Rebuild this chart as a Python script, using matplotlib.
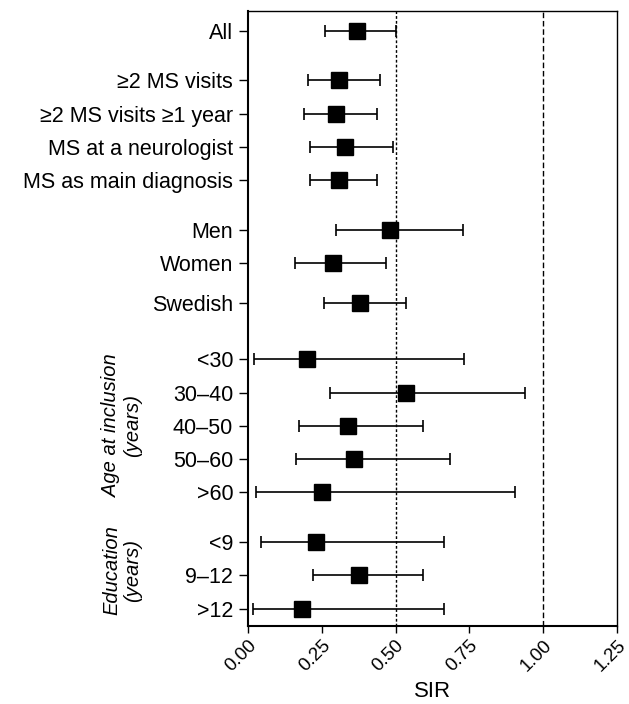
import matplotlib.pyplot as plt

plt.rcParams['font.family'] = ['Liberation Sans', 'DejaVu Sans']

# Données (SIR avec IC 95 %)
labels = ["All",
          "≥2 MS visits", "≥2 MS visits ≥1 year", "MS at a neurologist", "MS as main diagnosis",
          "Men", "Women",
          "Swedish",
          "<30", "30–40", "40–50", "50–60", ">60",
          "<9", "9–12", ">12"]
sir = [0.37,
       0.31, 0.30, 0.33, 0.31,
       0.48, 0.29,
       0.38,
       0.20, 0.535, 0.34, 0.36, 0.25,
       0.23, 0.375, 0.185]
ci_low = [0.26,
          0.205, 0.19, 0.21, 0.21,
          0.30, 0.16,
          0.257,
          0.022, 0.277, 0.174, 0.164, 0.026,
          0.044, 0.221, 0.019]
ci_high = [0.50,
           0.446, 0.438, 0.490, 0.438,
           0.729, 0.469,
           0.537,
           0.733, 0.938, 0.592, 0.684, 0.904,
           0.663, 0.593, 0.663]
group_sizes = [1, 4, 2, 1, 5, 3]

# Positions des lignes, avec un espace entre les groupes
gaps = [0.5, 0.5, 0.2, 0.7, 0.5, 0]
ypos = []
y = 0
for size, gap in zip(group_sizes, gaps):
    for k in range(size):
        ypos.append(y)
        y += 1
    y += gap

fig = plt.figure(figsize=(6.29, 7.04), dpi=100)
ax = fig.add_axes([0.394, 0.111, 0.587, 0.873])

err = [[s - l for s, l in zip(sir, ci_low)], [h - s for s, h in zip(sir, ci_high)]]
ax.errorbar(sir, ypos, xerr=err, fmt='s', color='black', ms=11.3,
            ecolor='black', elinewidth=1.2, capsize=4.5, capthick=1.2, zorder=3)

ax.axvline(0.5, color='black', lw=1.0, ls=(0, (2, 1.5)), zorder=1)
ax.axvline(1.0, color='black', lw=1.0, ls=(0, (4, 2)), zorder=1)

ax.set_xlim(0, 1.25)
ax.set_ylim(ypos[-1] + 0.52, -0.58)
ax.set_xticks([0, 0.25, 0.5, 0.75, 1.0, 1.25])
ax.set_xticklabels(['0.00', '0.25', '0.50', '0.75', '1.00', '1.25'],
                   rotation=45, ha='right', rotation_mode='anchor', fontsize=13.5)
ax.set_yticks(ypos)
ax.set_yticklabels(labels, fontsize=15.5)
ax.tick_params(axis='y', length=6.5, width=1.0, direction='out', pad=4)
ax.tick_params(axis='x', length=5, width=1.0, direction='out', pad=3)
ax.set_xlabel('SIR', fontsize=16, labelpad=4)

for side in ['top', 'right']:
    ax.spines[side].set_linewidth(1.0)
for side in ['left', 'bottom']:
    ax.spines[side].set_linewidth(1.5)

# Titres de groupe en italique
age_mid = (ypos[8] + ypos[12]) / 2
edu_mid = (ypos[13] + ypos[15]) / 2 - 0.15
ax.text(-0.34, age_mid, 'Age at inclusion\n(years)', rotation=90, style='italic',
        fontsize=14.5, ha='center', va='center', transform=ax.get_yaxis_transform(),
        linespacing=1.15)
ax.text(-0.34, edu_mid, 'Education\n(years)', rotation=90, style='italic',
        fontsize=14.5, ha='center', va='center', transform=ax.get_yaxis_transform(),
        linespacing=1.15)

fig.savefig('out.png', dpi=100)
